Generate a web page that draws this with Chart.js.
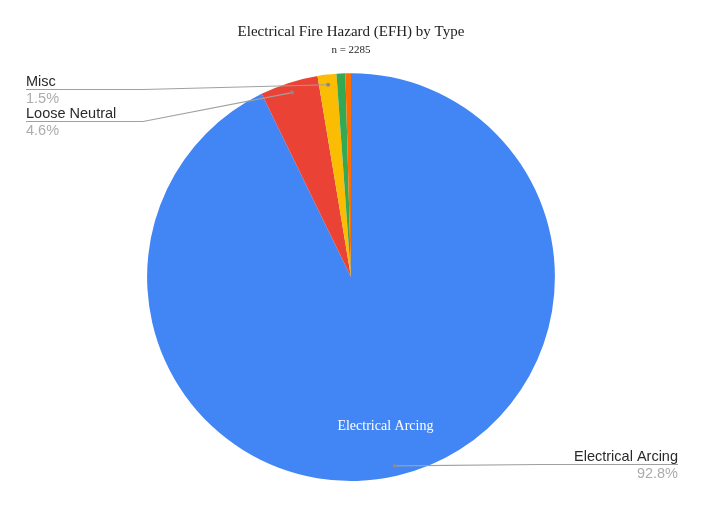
<!DOCTYPE html>
<html>
<head>
<meta charset="utf-8">
<script src="https://cdn.jsdelivr.net/npm/chart.js@4/dist/chart.umd.min.js"></script>
<style>
html,body{margin:0;padding:0;background:#fff;}
#wrap{width:705px;height:511px;position:relative;}
</style>
</head>
<body>
<div id="wrap"><canvas id="c" width="705" height="511"></canvas></div>
<script>
const titleText = 'Electrical Fire Hazard (EFH) by Type';
const subtitleText = 'n = 2285';
const categories = ['Electrical Arcing', 'Loose Neutral', 'Misc', 'Other', 'Unknown'];
const counts = [2120, 105, 34, 16, 10];
const colors = ['#4285F4', '#EA4335', '#FBBC04', '#34A853', '#FF6D01'];
const calloutIdx = [2, 1, 0];

const total = counts.reduce((a, b) => a + b, 0);
const pct = i => (counts[i] / total * 100).toFixed(1) + '%';

const calloutPlugin = {
  id: 'callouts',
  afterDatasetsDraw(chart) {
    const ctx = chart.ctx;
    const meta = chart.getDatasetMeta(0);
    ctx.save();
    {
      const a = meta.data[0];
      const p = a.getProps(['x', 'y', 'startAngle', 'endAngle', 'outerRadius'], true);
      const mid = (p.startAngle + p.endAngle) / 2;
      const r = p.outerRadius * 0.75;
      ctx.fillStyle = '#ffffff';
      ctx.font = '14px "Liberation Serif", "Times New Roman", serif';
      ctx.textAlign = 'center';
      ctx.textBaseline = 'middle';
      ctx.fillText(categories[0], p.x + Math.cos(mid) * r, p.y + Math.sin(mid) * r);
    }
    const leftRows = [89, 121];
    let li = 0;
    calloutIdx.forEach(i => {
      const a = meta.data[i];
      const p = a.getProps(['x', 'y', 'startAngle', 'endAngle', 'outerRadius'], true);
      const mid = (p.startAngle + p.endAngle) / 2;
      const r = p.outerRadius * 0.95;
      const dx = p.x + Math.cos(mid) * r;
      const dy = p.y + Math.sin(mid) * r;
      const left = Math.cos(mid) < 0;
      let ly, x0, x1, bend;
      if (left) {
        ly = leftRows[li++];
        x0 = 26; x1 = 143; bend = 143;
      } else {
        ly = 464;
        x0 = 540; x1 = 678; bend = 540;
      }
      ctx.strokeStyle = '#a0a0a0';
      ctx.lineWidth = 1.2;
      ctx.beginPath();
      if (left) {
        ctx.moveTo(x0, ly + 0.5);
        ctx.lineTo(bend, ly + 0.5);
        ctx.lineTo(dx, dy);
      } else {
        ctx.moveTo(dx, dy);
        ctx.lineTo(bend, ly + 0.5);
        ctx.lineTo(x1, ly + 0.5);
      }
      ctx.stroke();
      ctx.fillStyle = '#8a8a8a';
      ctx.beginPath();
      ctx.arc(dx, dy, 2, 0, Math.PI * 2);
      ctx.fill();
      ctx.textBaseline = 'alphabetic';
      ctx.font = '14.5px "Liberation Sans", Arial, sans-serif';
      ctx.textAlign = left ? 'left' : 'right';
      const tx = left ? x0 : x1;
      ctx.fillStyle = '#2a2a2a';
      ctx.fillText(categories[i], tx, ly - 3);
      ctx.fillStyle = '#acacac';
      ctx.fillText(pct(i), tx, ly + 14);
    });
    ctx.restore();
  }
};

new Chart(document.getElementById('c'), {
  type: 'pie',
  data: {
    labels: categories,
    datasets: [{
      data: counts,
      backgroundColor: colors,
      borderWidth: 0
    }]
  },
  options: {
    responsive: false,
    animation: false,
    events: [],
    layout: { padding: { left: 147, right: 150, top: 0, bottom: 30 } },
    plugins: {
      legend: { display: false },
      tooltip: { enabled: false },
      title: {
        display: true,
        text: titleText,
        color: '#222222',
        font: { family: '"Liberation Serif", "Times New Roman", serif', size: 15, weight: 'normal' },
        padding: { top: 23, bottom: 0 }
      },
      subtitle: {
        display: true,
        text: subtitleText,
        color: '#222222',
        font: { family: '"Liberation Serif", "Times New Roman", serif', size: 11, weight: 'normal' },
        padding: { top: 3, bottom: 16 }
      }
    }
  },
  plugins: [calloutPlugin]
});
</script>
</body>
</html>
